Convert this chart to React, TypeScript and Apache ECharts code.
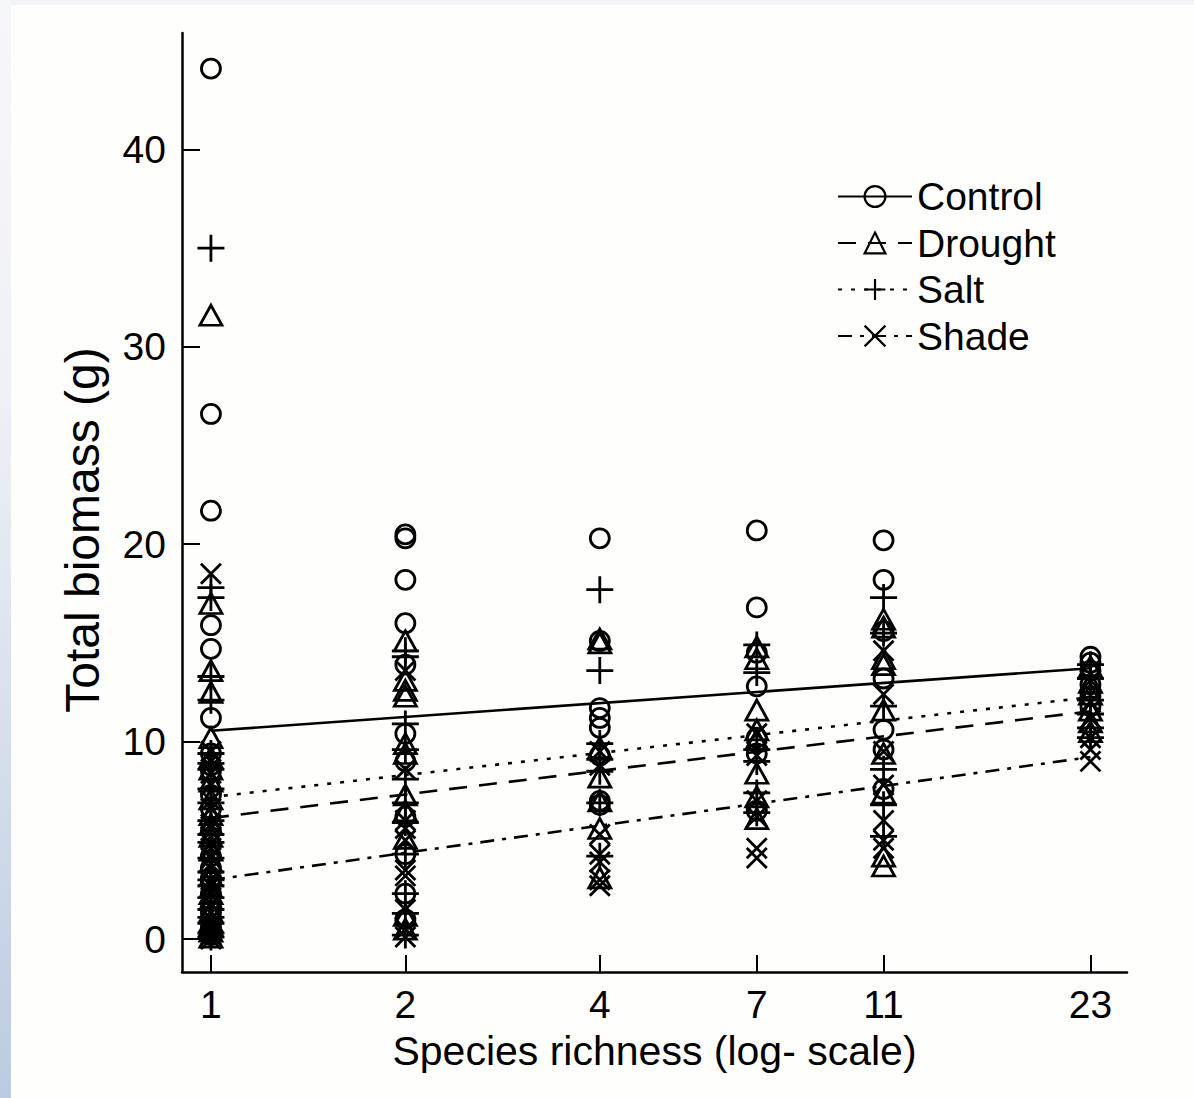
import React, { useEffect, useRef } from "react";
import * as echarts from "echarts";

// Species richness levels (x, log scale)
const RICHNESS = [1, 2, 4, 7, 11, 23];
const X_TICKS = [1, 2, 4, 7, 11, 23];
const Y_TICKS = [0, 10, 20, 30, 40];

// Total biomass (g) per richness level, per treatment
const CONTROL_VALUES = [
  [44.1, 26.6, 21.7, 15.9, 14.7, 11.2, 9.4, 8.8, 8.5, 7.3, 6.6, 5.5, 4.8, 4.2, 3.6, 3.1, 2.9, 2.3, 1.7, 1.4, 1.1, 0.6, 0.4, 0.2],
  [20.5, 20.3, 18.2, 16.0, 13.9, 10.4, 9.0, 6.2, 4.3, 2.3, 1.0],
  [20.3, 15.1, 11.7, 11.2, 10.7, 9.3, 7.0, 6.8],
  [20.7, 16.8, 14.5, 12.8, 10.2, 9.4, 6.5],
  [20.2, 18.2, 15.6, 13.2, 10.6, 9.6, 7.6],
  [14.3, 14.0, 13.6, 12.9, 12.3, 11.8],
];
const DROUGHT_VALUES = [
  [31.6, 17.0, 13.6, 12.5, 10.2, 9.2, 8.6, 8.0, 7.1, 6.3, 5.8, 5.2, 4.5, 3.9, 3.2, 2.6, 2.3, 2.0, 1.4, 0.9, 0.7, 0.4, 0.1],
  [15.1, 13.1, 12.6, 12.3, 9.9, 9.4, 7.3, 6.5, 5.1, 1.2, 0.5],
  [15.2, 15.0, 9.7, 8.2, 7.0, 5.6, 3.1],
  [14.8, 14.2, 11.6, 10.6, 10.1, 8.4, 7.2, 6.1],
  [16.2, 15.8, 14.2, 13.9, 11.6, 9.4, 7.4, 4.2, 3.7],
  [13.8, 13.0, 12.4, 11.6, 11.0, 10.5],
];
const SALT_VALUES = [
  [35.0, 17.8, 17.3, 13.3, 12.1, 9.4, 8.9, 8.6, 7.6, 6.9, 6.0, 5.3, 4.9, 4.1, 3.4, 3.0, 2.7, 2.1, 1.5, 1.1, 0.8, 0.3, 0.1],
  [14.6, 14.3, 10.9, 9.6, 8.1, 6.9, 5.9, 4.3, 2.3, 1.3, 0.2],
  [17.7, 13.6, 9.9, 9.1, 8.5, 6.9, 4.2],
  [14.9, 13.5, 9.6, 9.0, 7.4, 6.4],
  [17.3, 15.5, 11.8, 8.6, 6.8, 5.2],
  [13.9, 13.2, 12.1, 11.4, 10.7, 10.2],
];
const SHADE_VALUES = [
  [18.5, 9.5, 9.0, 8.4, 7.8, 7.0, 6.6, 5.8, 5.2, 4.6, 4.1, 3.8, 3.0, 2.7, 2.4, 1.8, 1.3, 1.0, 0.7, 0.2, 0.0],
  [13.6, 8.6, 6.0, 5.6, 5.0, 3.5, 3.2, 1.5, 0.5, 0.1],
  [9.5, 8.8, 5.3, 4.3, 3.9, 3.0, 2.7],
  [10.4, 9.3, 7.0, 6.2, 4.6, 4.1],
  [14.6, 12.4, 9.5, 7.8, 6.0, 5.0, 4.6],
  [13.1, 12.0, 11.2, 10.2, 9.6, 9.0],
];

// Fitted regression lines: [value at richness 1, value at richness 23]
const FIT_X = [1, 23];
const CONTROL_FIT = [10.55, 13.72];
const DROUGHT_FIT = [6.13, 11.54];
const SALT_FIT = [7.19, 12.25];
const SHADE_FIT = [2.99, 9.22];

const SERIES_NAMES = ["Control", "Drought", "Salt", "Shade"];
const Y_TITLE = "Total biomass (g)";
const X_TITLE = "Species richness (log- scale)";

const SYM_CIRCLE = "path://M1,0 A1,1 0 1,1 -1,0 A1,1 0 1,1 1,0 Z";
const SYM_TRIANGLE = "path://M0,-1 L1,0.85 L-1,0.85 Z";
const SYM_PLUS = "path://M0,-1 L0,1 M-1,0 L1,0";
const SYM_CROSS = "path://M-1,-1 L1,1 M-1,1 L1,-1";

const FONT = "'Liberation Sans', Arial, sans-serif";

function toPoints(values: number[][]) {
  const pts: number[][] = [];
  values.forEach((col, i) => col.forEach((v) => pts.push([RICHNESS[i], v])));
  return pts;
}

export default function App() {
  const ref = useRef<HTMLDivElement>(null);

  useEffect(() => {
    document.body.style.margin = "0";
    const chart = echarts.init(ref.current!, null, { renderer: "svg" });

    const groups = [
      { name: "Control", values: CONTROL_VALUES, fit: CONTROL_FIT, symbol: SYM_CIRCLE, size: [19, 19], dash: "solid" as any },
      { name: "Drought", values: DROUGHT_VALUES, fit: DROUGHT_FIT, symbol: SYM_TRIANGLE, size: [22, 20], dash: [18, 12] },
      { name: "Salt", values: SALT_VALUES, fit: SALT_FIT, symbol: SYM_PLUS, size: [27, 27], dash: [4, 9] },
      { name: "Shade", values: SHADE_VALUES, fit: SHADE_FIT, symbol: SYM_CROSS, size: [20, 20], dash: [14, 8, 4, 8] },
    ];

    const lineSeries = groups.map((g) => ({
      type: "line",
      name: g.name,
      data: FIT_X.map((x, i) => [x, g.fit[i]]),
      showSymbol: false,
      symbol: g.symbol,
      symbolSize: g.size,
      silent: true,
      lineStyle: { color: "#000", width: 2.6, type: g.dash },
      itemStyle: { color: "transparent", borderColor: "#000", borderWidth: 2 },
      z: 2,
    }));

    const scatterSeries = groups.map((g) => ({
      type: "scatter",
      name: g.name,
      data: toPoints(g.values),
      symbol: g.symbol,
      symbolSize: g.size,
      itemStyle: { color: "transparent", borderColor: "#000", borderWidth: 2.8, opacity: 1 },
      z: 3,
    }));

    chart.setOption({
      animation: false,
      backgroundColor: "transparent",
      textStyle: { fontFamily: FONT, color: "#000" },
      grid: { left: 182, right: 67, top: 33, bottom: 126, containLabel: false },
      legend: {
        data: SERIES_NAMES,
        orient: "vertical",
        left: 832,
        top: 172,
        itemWidth: 74,
        itemHeight: 26,
        itemGap: 7.5,
        selectedMode: false,
        textStyle: { fontSize: 39, color: "#000", fontFamily: FONT },
        itemStyle: { color: "transparent", borderColor: "#000", borderWidth: 2.2 },
      },
      graphic: [
        {
          type: "text",
          x: 82,
          y: 530,
          rotation: Math.PI / 2,
          style: { text: Y_TITLE, fontSize: 48, fontFamily: FONT, fill: "#000", align: "center", verticalAlign: "middle" },
        },
      ],
      xAxis: {
        type: "log",
        logBase: 10,
        min: 0.902,
        max: 26.2,
        name: X_TITLE,
        nameLocation: "middle",
        nameGap: 58,
        nameTextStyle: { fontSize: 41, color: "#000", fontFamily: FONT },
        axisLine: { show: true, onZero: false, lineStyle: { color: "#000", width: 2.5 } },
        axisTick: { show: true, inside: true, length: 17, customValues: X_TICKS, lineStyle: { color: "#000", width: 2 } },
        axisLabel: { show: true, customValues: X_TICKS, fontSize: 39, color: "#000", margin: 13, fontFamily: FONT, formatter: (v: number) => String(Math.round(v)) },
        splitLine: { show: false },
        minorTick: { show: false },
      },
      yAxis: {
        type: "value",
        min: -1.67,
        max: 45.9,
        axisLine: { show: true, onZero: false, lineStyle: { color: "#000", width: 2.5 } },
        axisTick: { show: true, inside: true, length: 18, customValues: Y_TICKS, lineStyle: { color: "#000", width: 2 } },
        axisLabel: { show: true, customValues: Y_TICKS, fontSize: 39, color: "#000", margin: 16, fontFamily: FONT },
        splitLine: { show: false },
      },
      series: [...lineSeries, ...scatterSeries],
    });

    return () => chart.dispose();
  }, []);

  return (
    <div style={{ position: "absolute", left: 0, top: 0, width: 1194, height: 1098, background: "#fefefd", overflow: "hidden" }}>
      <div style={{ position: "absolute", left: 0, top: 0, width: 1194, height: 5, background: "#f3f4f7" }} />
      <div style={{ position: "absolute", left: 0, top: 0, width: 11, height: 1098, background: "linear-gradient(to bottom, #f6f7fa 0%, #eef1f6 35%, #dde3ee 60%, #bccbe0 100%)" }} />
      <div ref={ref} style={{ position: "absolute", left: 0, top: 0, width: 1194, height: 1098 }} />
    </div>
  );
}
